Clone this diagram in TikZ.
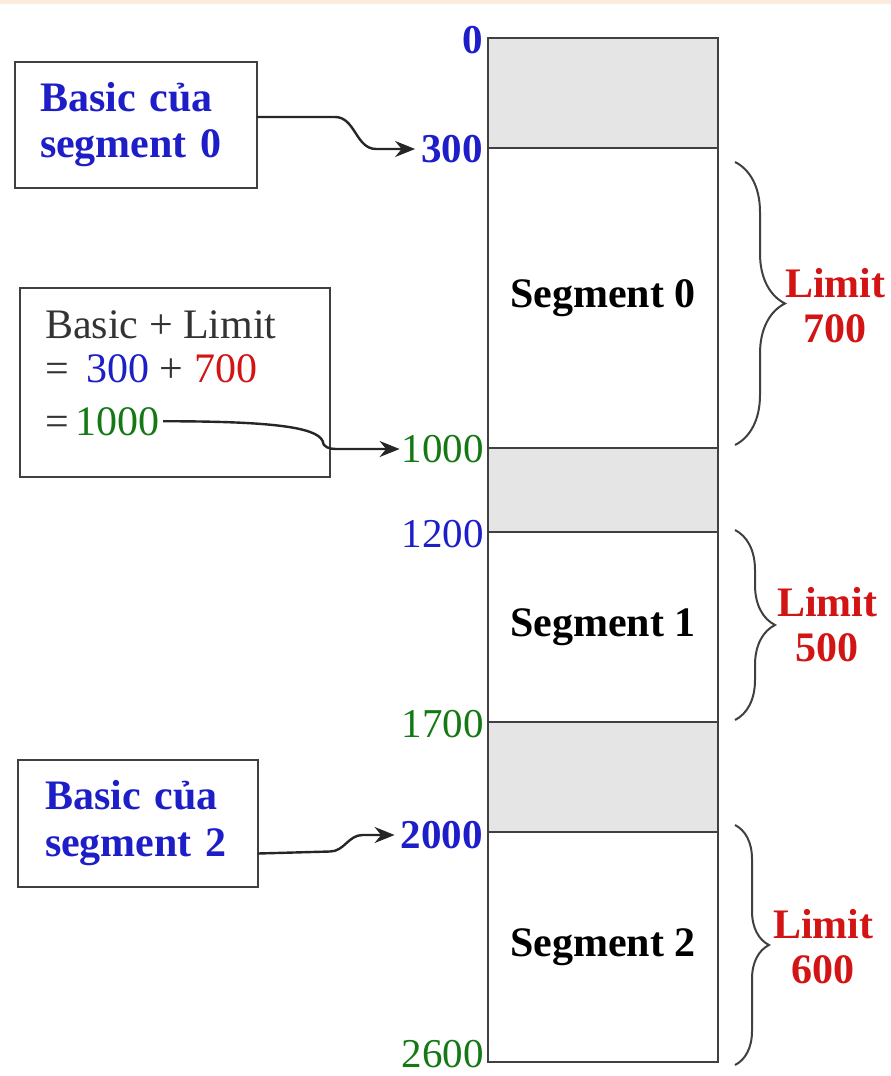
\documentclass[tikz,border=0pt]{standalone}
\usepackage{fontspec}
\setmainfont{Liberation Serif}
\usetikzlibrary{arrows.meta,calc,decorations.pathreplacing}
\definecolor{myblue}{RGB}{30,30,200}
\definecolor{myred}{RGB}{210,20,20}
\definecolor{mygreen}{RGB}{20,120,20}
\definecolor{edge}{RGB}{64,64,64}
\definecolor{shade}{RGB}{229,229,229}
\definecolor{peach}{RGB}{252,236,222}
\begin{document}
\begin{tikzpicture}[x=1pt,y=-1pt,
  big/.style={font=\fontsize{42}{46}\selectfont},
  box/.style={draw=edge,line width=2.5pt,fill=white,inner sep=0pt,outer sep=0pt},
  region/.style={draw=edge,line width=2pt,minimum width=230pt,inner sep=0pt,outer sep=0pt,font=\fontsize{42}{46}\selectfont\bfseries},
  gap/.style={region,fill=shade},
  lbl/.style={inner sep=0pt,anchor=east,font=\fontsize{41}{46}\selectfont},
  blbl/.style={lbl,font=\fontsize{41}{46}\selectfont\bfseries},
  conn/.style={draw=black!85,line width=2.4pt,-{Stealth[length=20pt,width=16pt]}},
  bracestyle/.style={draw=edge,line width=2pt,decorate},
  limit/.style={inner sep=0pt,anchor=west,align=center,text=myred,font=\fontsize{42}{45}\selectfont\bfseries}
]
\useasboundingbox (0,0) rectangle (891,1076);
\fill[peach] (0,0) rectangle (891,4);

% memory column
\node[gap,minimum height=110pt] (r0) at (603,93) {};
\node[region,minimum height=300pt] (s0) at (603,298) {Segment 0};
\node[gap,minimum height=84pt] (r1) at (603,490) {};
\node[region,minimum height=190pt] (s1) at (603,627) {Segment 1};
\node[gap,minimum height=110pt] (r2) at (603,777) {};
\node[region,minimum height=230pt] (s2) at (603,947) {Segment 2};

% address labels
\node[blbl,text=myblue] (l0) at ([xshift=-5pt,yshift=-2pt]r0.north west) {0};
\node[blbl,text=myblue] (l300) at ([xshift=-5pt,yshift=-1pt]s0.north west) {300};
\node[lbl,text=mygreen] (l1000) at ([xshift=-4pt,yshift=-1pt]r1.north west) {1000};
\node[lbl,text=myblue] (l1200) at ([xshift=-4pt,yshift=-2pt]s1.north west) {1200};
\node[lbl,text=mygreen] (l1700) at ([xshift=-4pt,yshift=-2pt]r2.north west) {1700};
\node[blbl,text=myblue] (l2000) at ([xshift=-5pt,yshift=-3pt]s2.north west) {2000};
\node[lbl,text=mygreen] (l2600) at ([xshift=-4pt,yshift=8pt]s2.south west) {2600};

% left boxes
\node[box,minimum width=242pt,minimum height=126pt,text width=192pt,align=left,
      font=\fontsize{42}{46}\selectfont\bfseries,text=myblue] (b1) at (136,125) {Basic của\\segment 0};
\node[box,minimum width=310pt,minimum height=189pt] (b2) at (175,382.5) {};
\node[big,anchor=base west,inner sep=0pt,text=black!80] (t1) at (45,338) {Basic + Limit};
\node[big,anchor=base west,inner sep=0pt,text=black!80] (t2) at (45,382) {= \,\textcolor{myblue}{300} + \textcolor{myred}{700}};
\node[big,anchor=base west,inner sep=0pt,text=black!80] (t3) at (45,435) {=\,\textcolor{mygreen}{1000}};
\node[box,minimum width=240pt,minimum height=127pt,text width=186pt,align=left,
      font=\fontsize{42}{47}\selectfont\bfseries,text=myblue] (b3) at (138,823.5) {Basic của\\segment 2};

% connectors
\coordinate (a1) at ([yshift=8pt]b1.east);
\draw[conn,shorten >=6pt] (a1) -- ($(a1)+(78,0)$) to[out=0,in=180] ($(l300.west)+(-45,0)$) -- (l300.west);
\draw[conn,shorten >=2pt] ([xshift=3pt]t3.east) .. controls ($(t3.east)+(110,0)$) and ($(l1000.west)+(-85,-22)$) .. ($(l1000.west)+(-79,-8)$) to[out=-90,in=180] ($(l1000.west)+(-66,0)$) -- (l1000.west);
\coordinate (a3) at ([yshift=-30pt]b3.east);
\draw[conn,shorten >=6pt] (a3) -- ($(a3)+(72,-2)$) to[out=0,in=180] ($(l2000.west)+(-38,0)$) -- (l2000.west);

% braces and limits
\draw[bracestyle,decoration={brace,amplitude=50pt,aspect=0.5}] (735,162) -- (735,445)
  coordinate[midway] (m0);
\node[limit] (lim0) at ($(m0)+(50,2)$) {Limit\\700};
\draw[bracestyle,decoration={brace,amplitude=40pt,aspect=0.5}] (735,530) -- (735,720)
  coordinate[midway] (m1);
\node[limit] (lim1) at ($(m1)+(42,0)$) {Limit\\500};
\draw[bracestyle,decoration={brace,amplitude=34pt,aspect=0.5}] (735,825) -- (735,1065)
  coordinate[midway] (m2);
\node[limit] (lim2) at ($(m2)+(38,2)$) {Limit\\600};
\end{tikzpicture}
\end{document}
